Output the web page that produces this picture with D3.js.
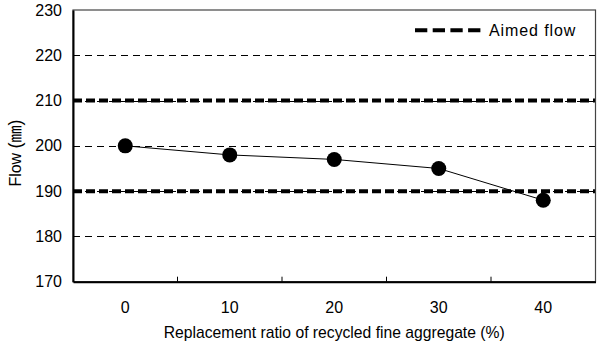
<!DOCTYPE html>
<html>
<head>
<meta charset="utf-8">
<script src="https://cdn.jsdelivr.net/npm/d3@7"></script>
<style>
  body { margin: 0; background: #fff; }
  text { font-family: "Liberation Sans", Arial, sans-serif; fill: #000; }
</style>
</head>
<body>
<svg id="chart" width="597" height="345"></svg>
<script>
// data
const categories = ["0", "10", "20", "30", "40"];
const flowValues = [200, 198, 197, 195, 188];
const aimedFlow = [190, 210];
const yTicks = [170, 180, 190, 200, 210, 220, 230];

const width = 597, height = 345;
const margin = { top: 10, right: 1.5, bottom: 63.3, left: 73 };

const svg = d3.select("#chart");

const x = d3.scaleBand()
    .domain(categories)
    .range([margin.left, width - margin.right]);

const y = d3.scaleLinear()
    .domain([170, 230])
    .range([height - margin.bottom, margin.top]);

// thin dashed gridlines
svg.append("g")
    .selectAll("line")
    .data(yTicks.filter(d => d > 170 && d < 230))
    .enter().append("line")
    .attr("x1", margin.left)
    .attr("x2", width - margin.right)
    .attr("y1", d => Math.round(y(d)) + 0.5)
    .attr("y2", d => Math.round(y(d)) + 0.5)
    .attr("stroke", "#000")
    .attr("stroke-width", 1)
    .attr("stroke-dasharray", "7,5");

// aimed flow limits
svg.append("g")
    .selectAll("line")
    .data(aimedFlow)
    .enter().append("line")
    .attr("x1", margin.left)
    .attr("x2", width - margin.right)
    .attr("y1", d => y(d))
    .attr("y2", d => y(d))
    .attr("stroke", "#000")
    .attr("stroke-width", 4)
    .attr("stroke-dasharray", "9,4");

// frame: top/right
svg.append("rect")
    .attr("x", margin.left)
    .attr("y", margin.top)
    .attr("width", width - margin.right - margin.left)
    .attr("height", height - margin.bottom - margin.top)
    .attr("fill", "none")
    .attr("stroke", "#444")
    .attr("stroke-width", 1.2);

// y axis
const yAxis = svg.append("g")
    .attr("transform", `translate(${margin.left},0)`)
    .call(d3.axisLeft(y).tickValues(yTicks).tickSize(0).tickPadding(11));
yAxis.select(".domain").attr("stroke", "#000").attr("stroke-width", 2);
yAxis.selectAll("text")
    .style("font-family", "'Liberation Sans', Arial, sans-serif")
    .style("font-size", "16px")
    .attr("fill", "#000");

// x axis with inward ticks at category boundaries
const xAxis = svg.append("g")
    .attr("transform", `translate(0,${height - margin.bottom})`)
    .call(d3.axisBottom(x).tickSize(0).tickPadding(20));
xAxis.select(".domain").attr("stroke", "#000").attr("stroke-width", 2);
xAxis.selectAll("text")
    .style("font-family", "'Liberation Sans', Arial, sans-serif")
    .style("font-size", "16px")
    .attr("fill", "#000");
xAxis.append("g")
    .selectAll("line")
    .data(categories.slice(1))
    .enter().append("line")
    .attr("x1", d => x(d))
    .attr("x2", d => x(d))
    .attr("y1", 0)
    .attr("y2", -5)
    .attr("stroke", "#000")
    .attr("stroke-width", 1);

// data line + markers
const line = d3.line()
    .x((d, i) => x(categories[i]) + x.bandwidth() / 2)
    .y(d => y(d));

svg.append("path")
    .datum(flowValues)
    .attr("d", line)
    .attr("fill", "none")
    .attr("stroke", "#000")
    .attr("stroke-width", 1);

svg.append("g")
    .selectAll("circle")
    .data(flowValues)
    .enter().append("circle")
    .attr("cx", (d, i) => x(categories[i]) + x.bandwidth() / 2)
    .attr("cy", d => y(d))
    .attr("r", 7.5)
    .attr("fill", "#000");

// legend
const legend = svg.append("g").attr("transform", "translate(415,30.3)");
legend.append("line")
    .attr("x1", 0).attr("x2", 66)
    .attr("y1", 0).attr("y2", 0)
    .attr("stroke", "#000")
    .attr("stroke-width", 4)
    .attr("stroke-dasharray", "12.3,5.4");
legend.append("text")
    .attr("x", 74)
    .attr("y", 6)
    .style("font-size", "16px")
    .style("letter-spacing", "0.9px")
    .text("Aimed flow");

// axis titles
svg.append("text")
    .attr("x", margin.left + (width - margin.right - margin.left) / 2)
    .attr("y", 338)
    .attr("text-anchor", "middle")
    .style("font-size", "15.7px")
    .text("Replacement ratio of recycled fine aggregate (%)");

const yTitle = svg.append("text")
    .attr("transform", "translate(21,153) rotate(-90)")
    .attr("text-anchor", "middle")
    .style("font-size", "16px");
yTitle.append("tspan").text("Flow ");
yTitle.append("tspan").style("font-size", "18px").text("(");
yTitle.append("tspan").style("font-family", "'Noto Sans CJK KR', sans-serif").style("font-size", "17px").text("㎜");
yTitle.append("tspan").style("font-size", "18px").text(")");
</script>
</body>
</html>
